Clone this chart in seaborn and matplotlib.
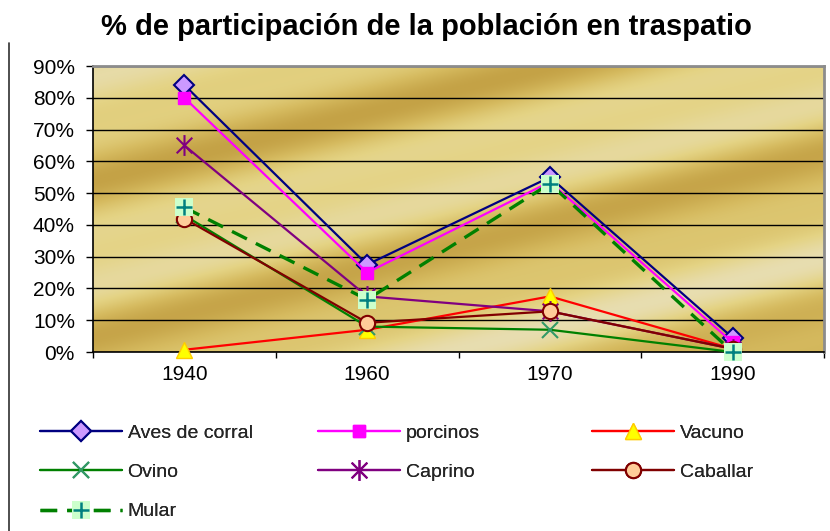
import numpy as np
import pandas as pd
import matplotlib
matplotlib.use("Agg")
import matplotlib.pyplot as plt
import seaborn as sns
from matplotlib.path import Path
from matplotlib.legend_handler import HandlerTuple
from matplotlib.colors import LinearSegmentedColormap
from matplotlib.ticker import PercentFormatter
from matplotlib.lines import Line2D

# ---------------- data ----------------
years = ["1940", "1960", "1970", "1990"]
aves = [0.84, 0.275, 0.55, 0.045]
porcinos = [0.80, 0.25, 0.535, 0.03]
vacuno = [0.007, 0.07, 0.175, 0.01]
ovino = [0.43, 0.08, 0.07, 0.0]
caprino = [0.65, 0.175, 0.128, 0.01]
caballar = [0.42, 0.092, 0.128, 0.01]
mular = [0.455, 0.165, 0.53, 0.0]
title = "% de participación de la población en traspatio"

sns.set_theme(style="white")
plt.rcParams["font.family"] = ["Liberation Sans", "DejaVu Sans"]

fig = plt.figure(figsize=(8.3, 5.31), dpi=100)
W, H = 830, 531
ax = fig.add_axes([93 / W, 1 - 352 / H, (824 - 93) / W, (352 - 66) / H])

xpos = np.arange(len(years))

# ---------------- gold gradient background ----------------
hh, ww = 286, 731
py, px = np.mgrid[0:hh, 0:ww]
t = py + 0.25 * px
val = 0.5 + 0.35 * np.sin(2 * np.pi * t / 170 + 0.6) + 0.15 * np.sin(2 * np.pi * t / 75 + 1.3)
cmap = LinearSegmentedColormap.from_list("gold", ["#C4A246", "#D6BB60", "#E4D384", "#E8DEB3"])
ax.imshow(val, extent=(-0.5, 3.5, 0, 0.9), aspect="auto", cmap=cmap,
          vmin=0, vmax=1, zorder=0, origin="upper", interpolation="bilinear")

# ---------------- series ----------------
star = Path([(0, -1), (0, 1), (-0.75, -0.75), (0.75, 0.75), (-0.75, 0.75), (0.75, -0.75)],
            [Path.MOVETO, Path.LINETO, Path.MOVETO, Path.LINETO, Path.MOVETO, Path.LINETO])

series = [
    ("Aves de corral", aves, dict(color="#000080", marker="D", markersize=10,
                                  markerfacecolor="#CC99FF", markeredgecolor="#000080", markeredgewidth=1.5)),
    ("porcinos", porcinos, dict(color="#FF00FF", marker="s", markersize=8,
                                markerfacecolor="#FF00FF", markeredgecolor="#FF00FF", markeredgewidth=1)),
    ("Vacuno", vacuno, dict(color="#FF0000", marker="^", markersize=12,
                            markerfacecolor="#FFFF00", markeredgecolor="#FFCC00", markeredgewidth=1)),
    ("Ovino", ovino, dict(color="#008000", marker="x", markersize=12,
                          markeredgecolor="#339966", markeredgewidth=1.5)),
    ("Caprino", caprino, dict(color="#800080", marker=star, markersize=15,
                              markeredgecolor="#800080", markeredgewidth=1.5)),
    ("Caballar", caballar, dict(color="#800000", marker="o", markersize=11,
                                markerfacecolor="#FFCC99", markeredgecolor="#800000", markeredgewidth=1.5)),
]

handles = {}
for name, vals, kw in series:
    sns.lineplot(x=xpos, y=vals, ax=ax, linewidth=1.6, errorbar=None, zorder=3, clip_on=False, **kw)
    handles[name] = ax.lines[-1]

sns.lineplot(x=xpos, y=mular, ax=ax, color="#008000", linewidth=2.4, linestyle=(0, (5, 3)),
             marker="s", markersize=13, markerfacecolor="#CCFFCC", markeredgecolor="#CCFFCC",
             markeredgewidth=0, errorbar=None, zorder=3, clip_on=False)
l1 = ax.lines[-1]
sns.lineplot(x=xpos, y=mular, ax=ax, color="#008080", linestyle="none", marker="+", markersize=12,
             markeredgecolor="#008080", markeredgewidth=1.8, errorbar=None, zorder=3, clip_on=False)
l2 = ax.lines[-1]
handles["Mular"] = (l1, l2)

# ---------------- axes styling ----------------
ax.set_xlim(-0.5, 3.5)
ax.set_ylim(0, 0.9)
ax.set_yticks(np.arange(0, 0.91, 0.1))
ax.yaxis.set_major_formatter(PercentFormatter(1.0, decimals=0))
ax.set_xticks(np.arange(-0.5, 3.6, 1.0))
ax.set_xticklabels([])
ax.set_xticks(xpos, labels=years, minor=True)
ax.tick_params(axis="x", which="major", direction="out", length=4.5, width=1, color="black", bottom=True)
ax.tick_params(axis="x", which="minor", length=0, pad=9, labelsize=15, labelcolor="black", bottom=True)
ax.tick_params(axis="y", which="major", direction="out", length=5, width=1, color="black",
               pad=8, labelsize=15, labelcolor="black", left=True)
ax.set_xlabel("")
ax.set_ylabel("")
ax.yaxis.grid(True, color="black", linewidth=1)
ax.xaxis.grid(False)
ax.set_axisbelow(True)
for s in ["left", "bottom"]:
    ax.spines[s].set_color("black")
    ax.spines[s].set_linewidth(1.2)
for s in ["top", "right"]:
    ax.spines[s].set_color("#8C8C8C")
    ax.spines[s].set_linewidth(2)

fig.text(426 / W, 1 - 27 / H, title, ha="center", va="center", fontsize=21, fontweight="bold", color="black")

# left border line
fig.add_artist(Line2D([9 / W, 9 / W], [0, 1 - 43 / H], color="#303030", linewidth=1.2))

# ---------------- legend (3 columns) ----------------
cols = [["Aves de corral", "Ovino", "Mular"], ["porcinos", "Caprino"], ["Vacuno", "Caballar"]]
xs = [40, 318, 592]
for names, x0 in zip(cols, xs):
    leg = fig.legend([handles[n] for n in names], names, loc="upper left",
                     bbox_to_anchor=(x0 / W, 1 - 424 / H), frameon=False, fontsize=14,
                     borderpad=0, borderaxespad=0, handlelength=4.2, handletextpad=0.3,
                     labelspacing=1.12, handler_map={tuple: HandlerTuple(ndivide=1, pad=0)})
    fig.add_artist(leg)

fig.savefig("out.png", dpi=100)
